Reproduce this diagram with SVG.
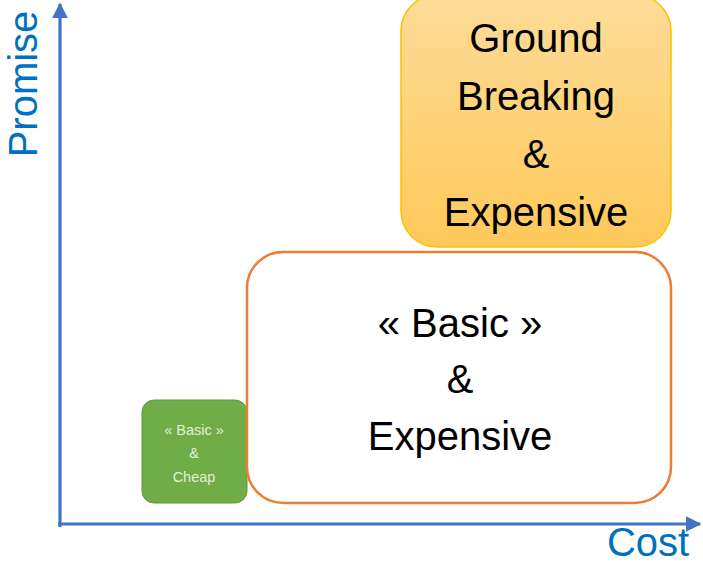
<svg xmlns="http://www.w3.org/2000/svg" width="703" height="565" viewBox="0 0 703 565">
<defs>
<linearGradient id="gy" x1="0" y1="0" x2="0" y2="1">
<stop offset="0" stop-color="#FDDC98"/>
<stop offset="1" stop-color="#FFC95A"/>
</linearGradient>
<marker id="ah" viewBox="0 0 10 10" refX="9" refY="5" markerWidth="5" markerHeight="5" orient="auto" markerUnits="strokeWidth">
<path d="M0,0 L10,5 L0,10 z" fill="#4472C4"/>
</marker>
<style>
.t{font-family:"Liberation Sans",Arial,sans-serif;text-anchor:middle}
.big{font-size:40px;fill:#000}
.ax{font-size:40px;fill:#0070C0;font-family:"Liberation Sans",Arial,sans-serif}
</style>
</defs>
<rect width="703" height="565" fill="#fff"/>
<g id="connectors">
<line x1="60" y1="527" x2="60" y2="4" stroke="#4472C4" stroke-width="3.2" marker-end="url(#ah)"/>
<line x1="58" y1="524" x2="700" y2="524" stroke="#4472C4" stroke-width="3.2" marker-end="url(#ah)"/>
</g>
<g id="promise">
<text class="ax" transform="translate(37,84) rotate(-90)" text-anchor="middle">Promise</text>
</g>
<g id="cost">
<text class="ax" x="648" y="556" text-anchor="middle">Cost</text>
</g>
<g id="ground-breaking">
<rect x="401" y="-5" width="270" height="252" rx="36" fill="url(#gy)" stroke="#FFC000" stroke-width="1.5"/>
<text class="t big" x="536" y="52">Ground</text>
<text class="t big" x="536" y="110">Breaking</text>
<text class="t big" x="536" y="168">&amp;</text>
<text class="t big" x="536" y="226">Expensive</text>
</g>
<g id="basic-cheap">
<rect x="142" y="400" width="105" height="103" rx="12" fill="#70AD47" stroke="#5E9A3A" stroke-width="1"/>
<text class="t" x="194" y="435" font-size="14.5" fill="#E2EFDA">« Basic »</text>
<text class="t" x="194" y="458" font-size="14.5" fill="#E2EFDA">&amp;</text>
<text class="t" x="194" y="482" font-size="14.5" fill="#E2EFDA">Cheap</text>
</g>
<g id="basic-expensive">
<rect x="247" y="252" width="424" height="251" rx="36" fill="#fff" stroke="#ED7D31" stroke-width="2.5"/>
<text class="t big" x="460" y="337">« Basic »</text>
<text class="t big" x="460" y="393">&amp;</text>
<text class="t big" x="460" y="450">Expensive</text>
</g>
</svg>
